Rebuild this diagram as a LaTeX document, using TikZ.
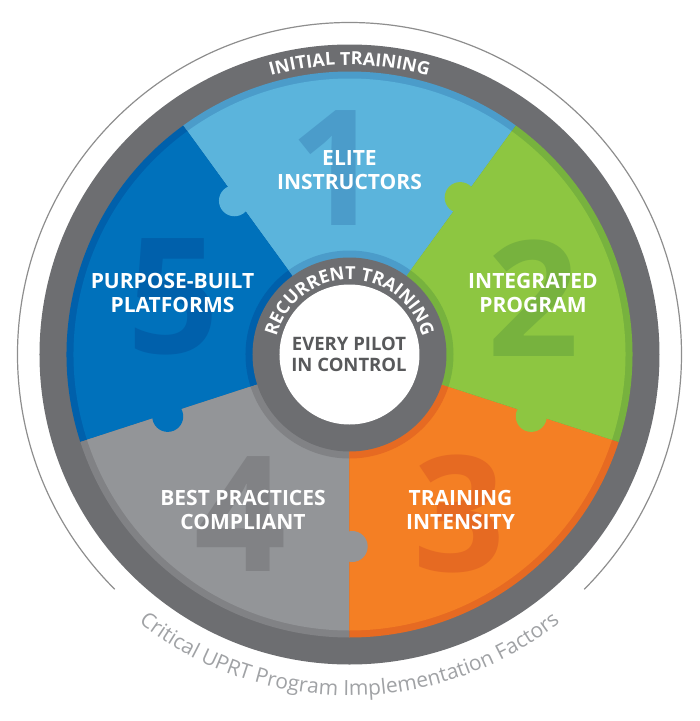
\documentclass[tikz,border=0pt]{standalone}
\usepackage{fontspec}
\setmainfont{Open Sans}
\usetikzlibrary{decorations.text,calc}
\definecolor{ringgray}{HTML}{6D6E71}
\definecolor{cA}{HTML}{5BB4DC}\definecolor{cAd}{HTML}{4B9CCA}
\definecolor{cB}{HTML}{8DC641}\definecolor{cBd}{HTML}{77B23E}
\definecolor{cC}{HTML}{F47F24}\definecolor{cCd}{HTML}{E66A22}
\definecolor{cD}{HTML}{939598}\definecolor{cDd}{HTML}{818285}
\definecolor{cE}{HTML}{0071BB}\definecolor{cEd}{HTML}{0060AB}
\definecolor{textdark}{HTML}{58595B}
\definecolor{thingray}{HTML}{8E8E8E}
\definecolor{captiongray}{HTML}{A0A2A5}
\tikzset{
  lbl/.style={font=\bfseries\fontsize{21}{24}\selectfont, text=white, align=center, inner sep=0pt},
  bignum/.style={font=\bfseries\fontsize{161}{161}\selectfont, inner sep=0pt},
  knob/.style={radius=15.5pt},
}
\begin{document}
\begin{tikzpicture}
\useasboundingbox (-349.5pt,-366.5pt) rectangle (350.5pt,354.5pt);
% thin outer arc
\draw[thingray, line width=1.2pt] (-45:332pt) arc[start angle=-45, end angle=225, radius=332pt];
% outer gray ring
\fill[ringgray] (0,0) circle[radius=310pt];
% pieces with outer band
\foreach \a/\m/\d in {54/cA/cAd, 126/cE/cEd, 198/cD/cDd, 270/cC/cCd, 342/cB/cBd}{
  \fill[\d] (0,0) -- (\a:283pt) arc[start angle=\a, end angle=\a+72, radius=283pt] -- cycle;
  \fill[\m] (0,0) -- (\a:276pt) arc[start angle=\a, end angle=\a+72, radius=276pt] -- cycle;
}
% puzzle knobs
\fill[cA] ($(126:192pt)+(216:2.7pt)$) circle[knob];
\fill[cB] ($(54:192pt)+(144:2.7pt)$) circle[knob];
\fill[cB] ($(-18:192pt)+(-108:2.7pt)$) circle[knob];
\fill[cD] ($(270:192pt)+(0:2.7pt)$) circle[knob];
\fill[cE] ($(198:192pt)+(288:2.7pt)$) circle[knob];
% inner bands
\foreach \a/\d in {54/cAd, 126/cEd, 198/cDd, 270/cCd, 342/cBd}{
  \fill[\d] (0,0) -- (\a:104pt) arc[start angle=\a, end angle=\a+72, radius=104pt] -- cycle;
}
\fill[ringgray] (0,0) circle[radius=97pt];
\fill[white] (0,0) circle[radius=70pt];
% big numbers
\node[bignum, text=cAd] (n1) at (-14.5pt,186pt) {1};
\node[bignum, text=cBd] (n2) at (183.5pt,56.5pt) {2};
\node[bignum, text=cCd] (n3) at (110pt,-159pt) {3};
\node[bignum, text=cDd] (n4) at (-109.5pt,-160pt) {4};
\node[bignum, text=cEd] (n5) at (-176.5pt,58pt) {5};
% labels
\node[lbl] (l1) at (0pt,184pt) {ELITE\\INSTRUCTORS};
\node[lbl] (l2) at (183.5pt,61.5pt) {INTEGRATED\\PROGRAM};
\node[lbl] (l3) at (111pt,-155.5pt) {TRAINING\\INTENSITY};
\node[lbl] (l4) at (-106.5pt,-155.5pt) {BEST PRACTICES\\COMPLIANT};
\node[lbl] (l5) at (-177pt,61.5pt) {PURPOSE-BUILT\\PLATFORMS};
\node[font=\bfseries\fontsize{18.5}{21.5}\selectfont, text=textdark, align=center, inner sep=0pt] (core) at (-0.5pt,0pt) {EVERY PILOT\\IN CONTROL};
% arc texts
\path[decorate, decoration={text along path, text align=center, text color=white,
  text={|\bfseries\fontsize{18}{18}\selectfont|INITIAL TRAINING}}]
  (150:289.5pt) arc[start angle=150, end angle=30, radius=289.5pt];
\path[decorate, decoration={text along path, text align=center, text color=white,
  text={|\bfseries\fontsize{18}{18}\selectfont|RECURRENT TRAINING}}]
  (190:75pt) arc[start angle=190, end angle=-10, radius=75pt];
\path[decorate, decoration={text along path, text align=center, text color=captiongray,
  text={|\fontsize{21}{21}\selectfont|Critical UPRT Program Implementation Factors}}]
  (200:341pt) arc[start angle=200, end angle=340, radius=341pt];
\end{tikzpicture}
\end{document}
